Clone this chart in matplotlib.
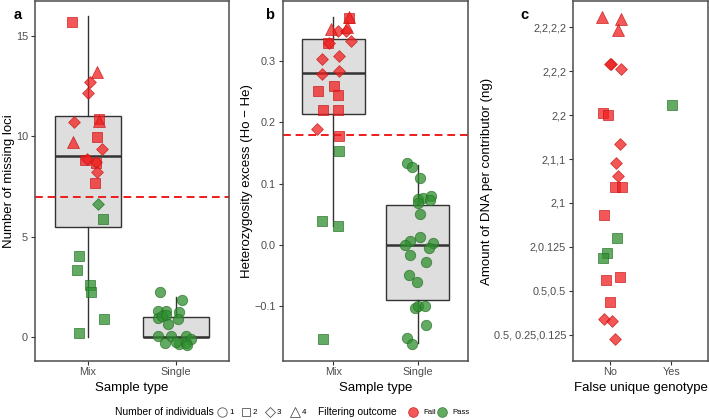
import numpy as np
import matplotlib
matplotlib.use("Agg")
import matplotlib.pyplot as plt
from matplotlib.lines import Line2D

plt.rcParams['font.family'] = ['Liberation Sans', 'DejaVu Sans']

# ---- panel a : number of missing loci (x = category + jitter) ----
a_cat = ['Mix'] * 24 + ['Single'] * 19
a_dx = [-0.18, 0.10, 0.02, 0.0, -0.16, 0.125, 0.125, -0.17, 0.10, 0.16, -0.03, -0.01,
        0.09, 0.09, 0.10, 0.08, 0.11, 0.17, -0.10, -0.125, 0.02, 0.03, 0.18, -0.10,
        -0.18, 0.07, -0.20, -0.11, 0.03, -0.20, -0.16, -0.11, 0.02, -0.09, -0.20, -0.06,
        0.11, -0.125, 0.03, 0.11, 0.17, 0.125, 0.0]
a_y = [15.7, 13.2, 12.7, 12.15, 10.7, 10.75, 10.85, 9.7, 9.95, 9.35, 8.8, 8.85,
       8.7, 8.65, 8.2, 7.7, 6.65, 5.9, 4.05, 3.35, 2.6, 2.25, 0.9, 0.2,
       2.25, 1.85, 1.3, 1.3, 1.25, 0.95, 1.05, 1.1, 0.9, 0.65, 0.05, 0.05,
       0.05, -0.3, -0.35, -0.3, -0.1, -0.4, -0.25]
a_n = [2, 4, 3, 3, 3, 4, 2, 4, 2, 3, 2, 3, 3, 2, 3, 2, 3, 2, 2, 2, 2, 2, 2, 2] + [1] * 19
a_pass = [0] * 16 + [1] * 8 + [1] * 19
# box stats: whislo, q1, med, q3, whishi
a_box = {'Mix': [0, 5.5, 9.0, 11.0, 16.0], 'Single': [0, 0, 0, 1.0, 2.0]}
a_cut = 7

# ---- panel b : heterozygosity excess ----
b_cat = ['Mix'] * 24 + ['Single'] * 24
b_dx = [0.18, 0.18, -0.035, 0.05, 0.165, 0.15, 0.21, -0.06, -0.05, -0.14, 0.07, -0.14,
        0.06, -0.18, 0.01, 0.05, -0.13, 0.05, -0.19, 0.06, 0.06, -0.14, 0.05, -0.12,
        -0.12, -0.07, 0.035, 0.01, 0.07, 0.165, 0.01, 0.15, 0.035, 0.035, -0.09, -0.15,
        0.18, 0.14, -0.09, 0.10, -0.10, -0.01, -0.035, 0.01, 0.09, 0.10, -0.13, -0.07]
b_y = [0.372, 0.370, 0.352, 0.349, 0.356, 0.349, 0.333, 0.329, 0.329, 0.303, 0.309, 0.279,
       0.284, 0.251, 0.259, 0.245, 0.220, 0.220, 0.189, 0.178, 0.153, 0.039, 0.031, -0.153,
       0.134, 0.127, 0.109, 0.075, 0.077, 0.080, 0.069, 0.073, 0.050, 0.013, 0.007, 0.0,
       0.003, -0.004, -0.016, -0.027, -0.049, -0.060, -0.103, -0.100, -0.100, -0.130, -0.152, -0.162]
b_n = [4, 2, 4, 3, 4, 3, 3, 2, 3, 3, 3, 3, 3, 2, 2, 2, 2, 2, 3, 2, 2, 2, 2, 2] + [1] * 24
b_pass = [0] * 20 + [1] * 4 + [1] * 24
b_box = {'Mix': [0.031, 0.214, 0.281, 0.336, 0.372], 'Single': [-0.16, -0.09, 0.0, 0.065, 0.13]}
b_cut = 0.18

# ---- panel c : amount of DNA per contributor ----
c_levels = ['0.5, 0.25,0.125', '0.5,0.5', '2,0.125', '2,1', '2,1,1', '2,2', '2,2,2', '2,2,2,2']
c_cat = ['No'] * 6 + ['Yes'] + ['No'] * 17
c_dx = [-0.13, 0.19, 0.14, 0.02, 0.01, 0.19, 0.02, -0.11, -0.03, 0.16, 0.10, 0.13,
        0.08, 0.20, -0.10, 0.11, -0.05, -0.11, -0.06, 0.17, 0.0, -0.10, 0.03, 0.08]
c_level = ['2,2,2,2'] * 3 + ['2,2,2'] * 3 + ['2,2'] * 3 + ['2,1,1'] * 3 + ['2,1'] * 3 + \
          ['2,0.125'] * 3 + ['0.5,0.5'] * 3 + ['0.5, 0.25,0.125'] * 3
c_dy = [0.23, 0.18, -0.05, 0.16, 0.17, 0.05, 0.23, 0.05, 0.0, 0.34, -0.10, -0.39,
        0.36, 0.36, -0.27, 0.20, -0.14, -0.25, 0.25, 0.32, -0.25, 0.36, 0.32, -0.09]
c_n = [4, 4, 4, 3, 3, 3, 2, 2, 2, 3, 3, 3, 2, 2, 2, 2, 2, 2, 2, 2, 2, 3, 3, 3]
c_pass = [0] * 6 + [1] + [0] * 8 + [1, 1, 1] + [0] * 6

shapes = {1: 'o', 2: 's', 3: 'D', 4: '^'}
sizes = {1: 56, 2: 48, 3: 36, 4: 74}
fills = {0: '#f01f1f', 1: '#2f8f2f'}
edges = {0: '#c81414', 1: '#236e23'}
grey = '#333333'


def scatter_pts(ax, x, y, n, ok):
    x, y, n, ok = map(np.asarray, (x, y, n, ok))
    for k in shapes:
        for p in (0, 1):
            m = (n == k) & (ok == p)
            if m.any():
                ax.scatter(x[m], y[m], marker=shapes[k], s=sizes[k], c=fills[p],
                           edgecolors=edges[p], linewidths=0.6, alpha=0.75, zorder=3)


def draw_box(ax, stats, cats):
    bx = []
    for c in cats:
        lo, q1, med, q3, hi = stats[c]
        bx.append(dict(whislo=lo, q1=q1, med=med, q3=q3, whishi=hi, fliers=[]))
    ax.bxp(bx, positions=range(1, len(cats) + 1), widths=0.75, patch_artist=True,
           showcaps=False, manage_ticks=False,
           boxprops=dict(facecolor='#dedede', edgecolor=grey, linewidth=1.0),
           whiskerprops=dict(color=grey, linewidth=1.0),
           medianprops=dict(color=grey, linewidth=1.8), zorder=1)


def style(ax, ylab_x):
    for s in ax.spines.values():
        s.set_color('#4d4d4d')
        s.set_linewidth(1.1)
    ax.tick_params(colors=grey, labelcolor='#4d4d4d', labelsize=7.8, length=3, width=0.8, pad=2)
    ax.tick_params(axis='x', pad=1.5)
    ax.yaxis.set_label_coords(ylab_x, 0.5)
    ax.xaxis.set_label_coords(0.5, -0.074)
    ax.xaxis.label.set_va('center')
    ax.yaxis.label.set_va('center')


fig = plt.figure(figsize=(7.09, 4.2), dpi=100)
axa = fig.add_axes([35 / 709, 59 / 420, 194 / 709, 360 / 420])
axb = fig.add_axes([283 / 709, 59 / 420, 185 / 709, 360 / 420])
axc = fig.add_axes([573 / 709, 59 / 420, 135 / 709, 360 / 420])

cats = ['Mix', 'Single']
pos = {c: i + 1 for i, c in enumerate(cats)}

# panel a
draw_box(axa, a_box, cats)
scatter_pts(axa, [pos[c] + d for c, d in zip(a_cat, a_dx)], a_y, a_n, a_pass)
axa.axhline(a_cut, color='#ee1c1c', lw=1.4, dashes=(4, 2.5), zorder=2)
axa.set_xlim(0.4, 2.6)
axa.set_ylim(-1.2, 16.75)
axa.set_yticks([0, 5, 10, 15])
axa.set_xticks([1, 2], cats)
axa.set_ylabel('Number of missing loci', fontsize=9.5)
axa.set_xlabel('Sample type', fontsize=9.5)

# panel b
draw_box(axb, b_box, cats)
scatter_pts(axb, [pos[c] + d for c, d in zip(b_cat, b_dx)], b_y, b_n, b_pass)
axb.axhline(b_cut, color='#ee1c1c', lw=1.4, dashes=(4, 2.5), zorder=2)
axb.set_xlim(0.4, 2.6)
axb.set_ylim(-0.189, 0.398)
axb.set_yticks([-0.1, 0.0, 0.1, 0.2, 0.3], ['\u22120.1', '0.0', '0.1', '0.2', '0.3'])
axb.set_xticks([1, 2], cats)
axb.set_ylabel('Heterozygosity excess (Ho \u2212 He)', fontsize=9.5)
axb.set_xlabel('Sample type', fontsize=9.5)

# panel c
cpos = {'No': 1, 'Yes': 2}
lpos = {l: i + 1 for i, l in enumerate(c_levels)}
scatter_pts(axc, [cpos[c] + d for c, d in zip(c_cat, c_dx)],
            [lpos[l] + d for l, d in zip(c_level, c_dy)], c_n, c_pass)
axc.set_xlim(0.4, 2.6)
axc.set_ylim(0.4, 8.6)
axc.set_yticks(range(1, len(c_levels) + 1), c_levels)
axc.set_xticks([1, 2], ['No', 'Yes'])
axc.set_ylabel('Amount of DNA per contributor (ng)', fontsize=9.5)
axc.set_xlabel('False unique genotype', fontsize=9.5)

style(axa, -0.135)
style(axb, -0.195)
style(axc, -0.637)

fig.text(14 / 709, 1 - 15 / 420, 'a', fontsize=10.5, fontweight='bold', va='center')
fig.text(265 / 709, 1 - 15 / 420, 'b', fontsize=10.5, fontweight='bold', va='center')
fig.text(520 / 709, 1 - 15 / 420, 'c', fontsize=10.5, fontweight='bold', va='center')

# bottom legend
ly = 8 / 420
fig.text(115 / 709, ly, 'Number of individuals', fontsize=7.4, va='center')
for k, x in zip([1, 2, 3, 4], [222, 246, 270, 295]):
    fig.add_artist(Line2D([x / 709], [ly], marker=shapes[k], markersize=np.sqrt(sizes[k]) * 0.9,
                          markerfacecolor='none', markeredgecolor='#555555', markeredgewidth=0.6,
                          linestyle='none', transform=fig.transFigure))
    fig.text((x + 7) / 709, ly, str(k), fontsize=5.8, va='center')
fig.text(318 / 709, ly, 'Filtering outcome', fontsize=7.4, va='center')
for p, x, lab in [(0, 413, 'Fail'), (1, 442, 'Pass')]:
    fig.add_artist(Line2D([x / 709], [ly], marker='o', markersize=7,
                          markerfacecolor=fills[p], markeredgecolor=edges[p], alpha=0.75,
                          markeredgewidth=0.6, linestyle='none', transform=fig.transFigure))
    fig.text((x + 10) / 709, ly, lab, fontsize=5.6, va='center')

fig.savefig('out.png', dpi=100)
